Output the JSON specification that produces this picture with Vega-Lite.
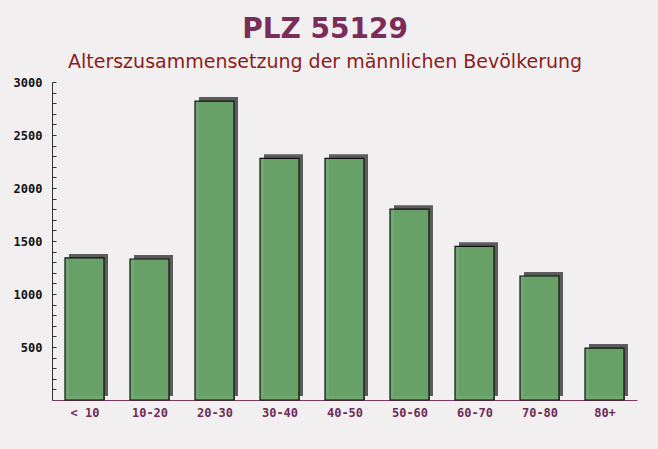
{
  "$schema": "https://vega.github.io/schema/vega-lite/v6.json",
  "width": 585,
  "height": 318,
  "autosize": {"type": "none"},
  "padding": {"left": 52, "top": 82, "right": 21, "bottom": 49},
  "background": "#f2eff0",
  "config": {"view": {"stroke": null}},
  "title": {
    "text": "PLZ 55129",
    "subtitle": "Alterszusammensetzung der männlichen Bevölkerung",
    "font": "DejaVu Sans",
    "fontSize": 28,
    "fontWeight": "bold",
    "color": "#7b2d59",
    "subtitleFont": "DejaVu Sans",
    "subtitleFontSize": 19,
    "subtitleColor": "#8b1c1c",
    "offset": 4,
    "subtitlePadding": 9,
    "anchor": "middle",
    "frame": "bounds"
  },
  "data": {
    "values": [
      {"gruppe": "< 10", "anzahl": 1340},
      {"gruppe": "10-20", "anzahl": 1330},
      {"gruppe": "20-30", "anzahl": 2820},
      {"gruppe": "30-40", "anzahl": 2280},
      {"gruppe": "40-50", "anzahl": 2280},
      {"gruppe": "50-60", "anzahl": 1800},
      {"gruppe": "60-70", "anzahl": 1450},
      {"gruppe": "70-80", "anzahl": 1170},
      {"gruppe": "80+", "anzahl": 490}
    ]
  },
  "encoding": {
    "x": {
      "field": "gruppe",
      "type": "nominal",
      "sort": null,
      "scale": {"paddingInner": 0.4, "paddingOuter": 0.2},
      "axis": {
        "title": null,
        "labelAngle": 0,
        "tickBand": "extent",
        "tickSize": -4,
        "tickColor": "#7a4a66",
        "domainColor": "#7a3a60",
        "labelColor": "#6e2c58",
        "labelFont": "DejaVu Sans Mono",
        "labelFontWeight": "bold",
        "labelFontSize": 12,
        "labelPadding": 11
      }
    },
    "y": {
      "field": "anzahl",
      "type": "quantitative",
      "scale": {"domain": [0, 3000]},
      "axis": {
        "title": null,
        "grid": false,
        "values": [100,200,300,400,500,600,700,800,900,1000,1100,1200,1300,1400,1500,1600,1700,1800,1900,2000,2100,2200,2300,2400,2500,2600,2700,2800,2900,3000],
        "format": "d",
        "labelExpr": "datum.value % 500 === 0 ? datum.label : ''",
        "labelOverlap": false,
        "tickSize": -4,
        "tickColor": "#333333",
        "domainColor": "#333333",
        "labelColor": "#111111",
        "labelFont": "DejaVu Sans Mono",
        "labelFontWeight": "bold",
        "labelFontSize": 12,
        "labelPadding": 14
      }
    }
  },
  "layer": [
    {
      "mark": {"type": "bar", "color": "#5c5c5c", "xOffset": 4, "yOffset": -4}
    },
    {
      "mark": {"type": "bar", "color": "#68a468", "fillOpacity": 0.95, "stroke": "#111111", "strokeWidth": 1.2}
    }
  ]
}
